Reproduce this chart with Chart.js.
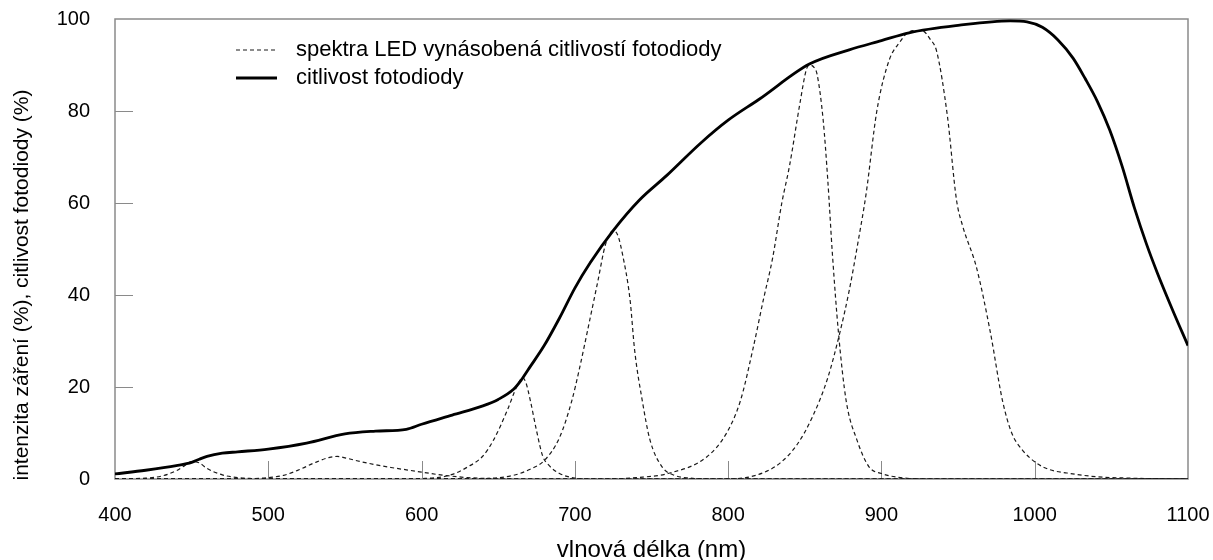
<!DOCTYPE html>
<html>
<head>
<meta charset="utf-8">
<script src="https://cdn.jsdelivr.net/npm/chart.js@4.4.0/dist/chart.umd.min.js"></script>
<style>
html,body{margin:0;padding:0;background:#fff;}
#wrap{width:1213px;height:560px;position:relative;}
</style>
</head>
<body>
<div id="wrap"><canvas id="c" width="1213" height="560"></canvas></div>
<script>
// ---- data ----
const xTicks = [400, 500, 600, 700, 800, 900, 1000, 1100];
const yTicks = [0, 20, 40, 60, 80, 100];

const legendDashed = 'spektra LED vynásobená citlivostí fotodiody';
const legendSolid = 'citlivost fotodiody';
const xTitle = 'vlnová délka (nm)';
const yTitle = 'intenzita záření (%), citlivost fotodiody (%)';

// photodiode sensitivity
const sensNm  = [400,420,440,450,455,460,470,480,500,525,550,570,590,600,620,640,650,660,665,670,680,690,700,710,725,742,760,782,800,820,853,879,900,918,950,984,995,1005,1015,1025,1033,1041,1049,1057,1065,1073,1080,1090,1100];
const sensVal = [1.1,1.9,2.9,3.6,4.3,4.9,5.6,5.9,6.5,7.8,9.8,10.4,10.8,11.9,13.9,15.9,17.3,19.5,21.5,24,29,35,41.5,47,54,60.6,66,73,78,82.5,90.2,93.3,95.3,97,98.6,99.6,99.4,98.2,95.5,91.5,87,82,75.8,68,59,51,44.8,36.7,29];

// LED spectra multiplied by photodiode sensitivity
const led450Nm  = [400,420,430,440,445,450,455,460,470,480,490,500,1100];
const led450Val = [0,0.2,0.6,1.8,2.8,3.8,3.5,2.3,0.9,0.3,0.1,0,0];

const led545Nm  = [400,480,490,500,510,520,530,540,545,550,560,570,580,590,600,610,620,630,640,660,1100];
const led545Val = [0,0,0.05,0.3,0.8,2,3.5,4.7,4.9,4.6,3.8,3.1,2.5,2,1.5,1.0,0.6,0.3,0.15,0,0];

const led665Nm  = [400,590,600,610,620,630,640,647,656,662,666,668,671,675,679,683,690,700,710,1100];
const led665Val = [0,0,0.1,0.3,1,2.6,5,8.5,15,20,22,21,17,10.5,5,3,1.2,0.2,0,0];

const led725Nm  = [400,640,660,670,680,690,698,703,710,715,720,725,728,731,736,739,744,749,757,765,775,790,1100];
const led725Val = [0,0.1,0.8,2,4,9,17,24,35,43,51,54,53,49,39,28,17,8.5,2.6,0.8,0.2,0,0];

const led853Nm  = [400,720,740,762,786,799,808,816,823,829,835,840,847,851,853,856,858,862,865,868,872,877,884,892,900,910,930,1100];
const led853Val = [0,0,0.3,1.3,4.8,10,17,28,39,48,60,68,82,89,90,89.5,88,78,65,49,31.7,17,8.5,2.6,1.2,0.4,0,0];

const led925Nm  = [400,800,820,834,845,855,865,873,879,885,890,897,905,912,917,923,927,932,936,943,949,953,962,971,979,985,992,1001,1010,1021,1040,1060,1100];
const led925Val = [0,0,1,3.5,7.5,13.5,22,32,41,52,62,80,91,95,97,97.5,97.4,95.5,93,79,60.6,55,46,32,17,10,6.3,3.5,2,1.3,0.5,0.2,0];

const toPts = (xs, ys) => xs.map((x, i) => ({x: x, y: ys[i]}));

const FONT = '"Liberation Sans", Arial, sans-serif';

function dashedSet(label, xs, ys) {
  return {label: label, data: toPts(xs, ys), borderColor: '#1a1a1a', borderWidth: 1.2,
    borderDash: [4, 3], pointRadius: 0, fill: false, cubicInterpolationMode: 'monotone', order: 2};
}

const datasets = [
  dashedSet(legendDashed, led450Nm, led450Val),
  dashedSet('', led545Nm, led545Val),
  dashedSet('', led665Nm, led665Val),
  dashedSet('', led725Nm, led725Val),
  dashedSet('', led853Nm, led853Val),
  dashedSet('', led925Nm, led925Val),
  {label: legendSolid, data: toPts(sensNm, sensVal), borderColor: '#000', borderWidth: 2.8,
   pointRadius: 0, fill: false, cubicInterpolationMode: 'monotone', order: 1}
];

const framePlugin = {
  id: 'frame',
  beforeDatasetsDraw(chart) {
    const {ctx, chartArea: a} = chart;
    ctx.save();
    ctx.strokeStyle = '#8a8a8a';
    ctx.lineWidth = 1;
    const tl = 18;
    ctx.beginPath();
    chart.scales.y.ticks.forEach(t => {
      if (t.value <= 0 || t.value >= 100) return;
      const py = Math.round(chart.scales.y.getPixelForValue(t.value)) + 0.5;
      ctx.moveTo(a.left, py); ctx.lineTo(a.left + tl, py);
    });
    chart.scales.x.ticks.forEach(t => {
      if (t.value <= 400 || t.value >= 1100) return;
      const px = Math.round(chart.scales.x.getPixelForValue(t.value)) + 0.5;
      ctx.moveTo(px, a.bottom); ctx.lineTo(px, a.bottom - tl);
    });
    ctx.stroke();
    ctx.lineWidth = 1.5;
    ctx.strokeRect(a.left, a.top, a.right - a.left, a.bottom - a.top);
    ctx.restore();
  },
  afterDraw(chart) {
    const {ctx, chartArea: a} = chart;
    ctx.save();
    ctx.fillStyle = '#000';
    ctx.textBaseline = 'middle';
    // legend
    ctx.font = '22px ' + FONT;
    const items = chart.data.datasets.filter(d => d.label);
    items.forEach((d, i) => {
      const y = a.top + 31 + i * 28;
      const x0 = a.left + 121;
      ctx.strokeStyle = d.borderColor;
      ctx.lineWidth = d.borderWidth;
      ctx.setLineDash(d.borderDash || []);
      ctx.beginPath();
      ctx.moveTo(x0, y); ctx.lineTo(x0 + 41, y);
      ctx.stroke();
      ctx.setLineDash([]);
      ctx.textAlign = 'left';
      ctx.fillText(d.label, x0 + 60, y);
    });
    // axis titles
    ctx.textAlign = 'center';
    ctx.font = '24px ' + FONT;
    ctx.fillText(xTitle, (a.left + a.right) / 2, 550);
    ctx.save();
    ctx.translate(22, 285);
    ctx.rotate(-Math.PI / 2);
    ctx.font = '21px ' + FONT;
    ctx.fillText(yTitle, 0, 0);
    ctx.restore();
    ctx.restore();
  }
};

new Chart(document.getElementById('c'), {
  type: 'line',
  data: {datasets: datasets},
  options: {
    responsive: false,
    animation: false,
    layout: {padding: {top: 19, right: 25, left: 0, bottom: 0}},
    plugins: {legend: {display: false}, tooltip: {enabled: false}},
    scales: {
      x: {
        type: 'linear', min: 400, max: 1100,
        afterBuildTicks: s => { s.ticks = xTicks.map(v => ({value: v})); },
        afterFit: s => { s.height = 81; s.paddingLeft = 0; s.paddingRight = 0; },
        grid: {display: false, drawTicks: false},
        border: {display: false},
        ticks: {color: '#000', font: {family: FONT, size: 20}, padding: 24, maxRotation: 0,
                callback: v => String(v)}
      },
      y: {
        type: 'linear', min: 0, max: 100,
        afterBuildTicks: s => { s.ticks = yTicks.map(v => ({value: v})); },
        afterFit: s => { s.width = 115; s.paddingTop = 0; s.paddingBottom = 0; },
        grid: {display: false, drawTicks: false},
        border: {display: false},
        ticks: {color: '#000', font: {family: FONT, size: 20}, padding: 25,
                callback: v => String(v)}
      }
    }
  },
  plugins: [framePlugin]
});
</script>
</body>
</html>
